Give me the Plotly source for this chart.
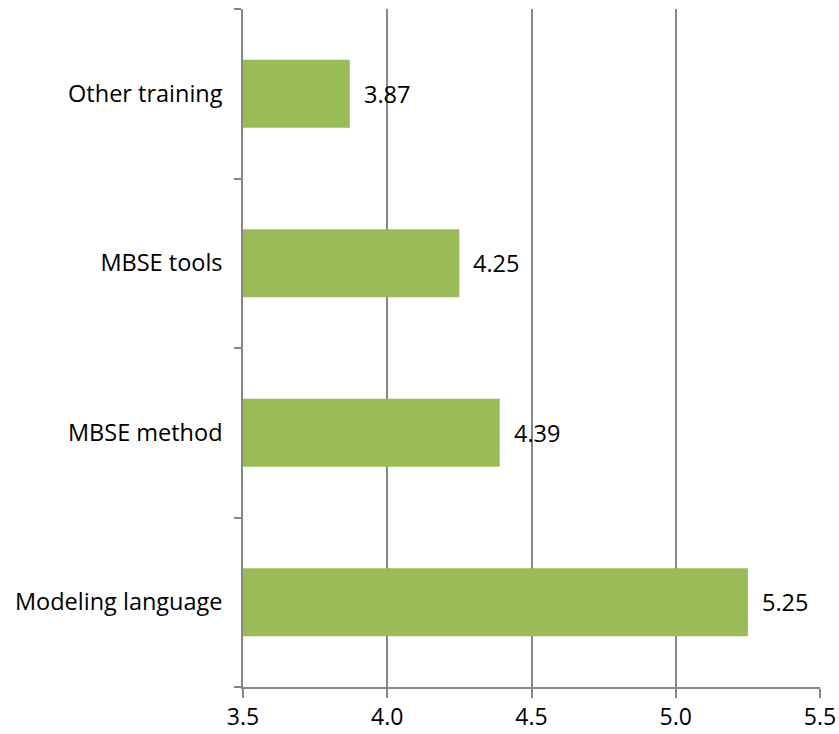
import plotly.graph_objects as go

categories = ["Modeling language", "MBSE method", "MBSE tools", "Other training"]
values = [5.25, 4.39, 4.25, 3.87]
x_ticks = [3.5, 4.0, 4.5, 5.0, 5.5]

BAR = "#9BBB59"
GRID = "#868686"
FONT = "Open Sans, sans-serif"
SIZE = 23.5

fig = go.Figure(go.Bar(
    x=values,
    y=categories,
    orientation="h",
    marker={"color": BAR, "line": {"width": 0}},
    width=0.4,
    hoverinfo="skip",
))

# data labels to the right of each bar
for cat, v in zip(categories, values):
    fig.add_annotation(
        x=v, y=cat, text=f"{v:.2f}", showarrow=False,
        xanchor="left", xshift=12,
        font={"size": SIZE, "family": FONT, "color": "#000000"},
    )

fig.update_layout(
    width=839,
    height=734,
    margin=dict(l=243, r=19, t=9, b=47),
    paper_bgcolor="white",
    plot_bgcolor="white",
    font={"family": FONT, "size": SIZE, "color": "#000000"},
    showlegend=False,
    xaxis=dict(
        range=[3.5, 5.5],
        tickvals=x_ticks,
        ticktext=[f"{t:.1f}" for t in x_ticks],
        showgrid=True, gridcolor=GRID, gridwidth=1.5,
        showline=True, linecolor=GRID, linewidth=1.5,
        ticks="outside", ticklen=9, tickcolor=GRID, tickwidth=1.5,
        zeroline=False,
        automargin=False,
        ticklabelstandoff=0,
        tickfont={"size": 23},
    ),
    yaxis=dict(
        categoryorder="array", categoryarray=categories,
        showline=True, linecolor=GRID, linewidth=1.5,
        ticks="outside", ticklen=7, tickcolor=GRID, tickwidth=1.5,
        tickson="boundaries",
        showgrid=False,
        automargin=False,
        ticklabelstandoff=14,
        tickfont={"size": SIZE},
    ),
)

fig.write_html("out.html", config={"displayModeBar": False},
               post_script="document.body.style.margin='0';")
